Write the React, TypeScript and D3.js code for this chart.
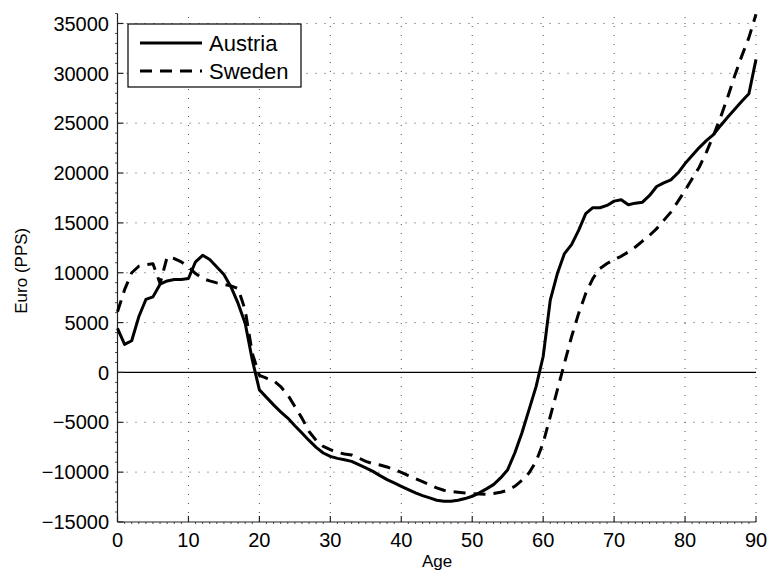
import React from "react";
import * as d3 from "d3";

const ages: number[] = Array.from({ length: 91 }, (_, i) => i);

const austria: number[] = [
  4420, 2820, 3180, 5580, 7320, 7580, 8850, 9180, 9320, 9320,
  9420, 11100, 11750, 11320, 10580, 9820, 8580, 6920, 4920, 1250,
  -1750, -2500, -3250, -3950, -4580, -5350, -6080, -6820, -7520, -8080,
  -8420, -8620, -8750, -8920, -9250, -9580, -9920, -10350, -10750, -11080,
  -11420, -11750, -12080, -12350, -12580, -12820, -12920, -12920, -12820, -12650,
  -12420, -12080, -11680, -11250, -10580, -9750, -8080, -6080, -3750, -1420,
  1600, 7250, 9920, 11920, 12820, 14250, 15920, 16520, 16520, 16750,
  17180, 17320, 16820, 16980, 17080, 17750, 18650, 19020, 19320, 20000,
  20950, 21750, 22550, 23250, 23850, 24750, 25600, 26400, 27200, 27950,
  31400,
];

const sweden: number[] = [
  6080, 8300, 10000, 10650, 10820, 10900, 8920, 11580, 11420, 11080,
  10580, 9920, 9420, 9180, 8980, 8820, 8680, 8420, 6250, 1920,
  -300, -580, -820, -1420, -2250, -3420, -4580, -5920, -6820, -7420,
  -7750, -8020, -8180, -8280, -8580, -8920, -9150, -9280, -9480, -9750,
  -10020, -10350, -10650, -10950, -11250, -11580, -11820, -11950, -12020, -12080,
  -12150, -12180, -12220, -12150, -12020, -11820, -11420, -10820, -10080, -8920,
  -7080, -4420, -1750, 920, 3580, 5920, 7920, 9420, 10420, 10920,
  11320, 11650, 12080, 12580, 13180, 13750, 14420, 15250, 16080, 17150,
  18250, 19420, 20580, 22080, 23750, 25580, 27580, 29750, 31750, 33580,
  35920,
];

const xTicks: number[] = [0, 10, 20, 30, 40, 50, 60, 70, 80, 90];
const yTicks: number[] = [-15000, -10000, -5000, 0, 5000, 10000, 15000, 20000, 25000, 30000, 35000];
const seriesNames: string[] = ["Austria", "Sweden"];

export default function App() {
  const W = 772;
  const H = 576;
  const x = d3.scaleLinear().domain([0, 90]).range([117.5, 756]);
  const y = d3.scaleLinear().domain([-15000, 36000]).range([522, 13.5]);
  const font = "'Liberation Sans', Arial, Helvetica, sans-serif";

  const line = d3
    .line<number>()
    .x((_, i) => x(ages[i]))
    .y((d) => y(d));

  const minorX = d3.range(0, 91, 1).filter((v) => v % 10 !== 0);
  const minorY = d3.range(-15000, 36001, 1000).filter((v) => v % 5000 !== 0);
  const x0 = x(0);
  const yb = y(-15000);
  const yt = y(36000);
  const xr = x(90);
  const fmt = (v: number) => (v < 0 ? "\u2212" + Math.abs(v) : String(v));

  return (
    <svg
      width={W}
      height={H}
      style={{ position: "absolute", left: 0, top: 0, background: "#fff" }}
    >
      <rect x={0} y={0} width={W} height={H} fill="#fff" />
      {/* grid */}
      <g stroke="#222" strokeWidth={1} strokeDasharray="1,8" fill="none" opacity={0.8}>
        {xTicks.filter((t) => t !== 0).map((t) => (
          <line key={"gx" + t} x1={x(t)} x2={x(t)} y1={yb} y2={yt} />
        ))}
        {yTicks.filter((t) => t !== -15000 && t !== 0).map((t) => (
          <line key={"gy" + t} x1={x0} x2={xr} y1={y(t)} y2={y(t)} />
        ))}
      </g>
      {/* zero line */}
      <line x1={x0} x2={xr} y1={y(0)} y2={y(0)} stroke="#000" strokeWidth={1.3} />
      {/* axes */}
      <g stroke="#222" strokeWidth={1.2} fill="none">
        <line x1={x0} x2={x0} y1={yb} y2={yt} />
        <line x1={x0} x2={xr} y1={yb} y2={yb} />
        {xTicks.map((t) => (
          <line key={"tx" + t} x1={x(t)} x2={x(t)} y1={yb} y2={yb - 6} />
        ))}
        {yTicks.map((t) => (
          <line key={"ty" + t} x1={x0} x2={x0 + 6} y1={y(t)} y2={y(t)} />
        ))}
        {minorX.map((t) => (
          <line key={"mx" + t} x1={x(t)} x2={x(t)} y1={yb} y2={yb + 2} strokeWidth={0.8} />
        ))}
        {minorY.map((t) => (
          <line key={"my" + t} x1={x0 - 2.5} x2={x0} y1={y(t)} y2={y(t)} strokeWidth={0.8} />
        ))}
      </g>
      {/* tick labels */}
      <g fontFamily={font} fontSize={20} fill="#000">
        {xTicks.map((t) => (
          <text key={"lx" + t} x={x(t)} y={547} textAnchor="middle">
            {t}
          </text>
        ))}
        {yTicks.map((t) => (
          <text key={"ly" + t} x={109} y={y(t)} dy="0.36em" textAnchor="end">
            {fmt(t)}
          </text>
        ))}
      </g>
      <text x={437} y={567} fontFamily={font} fontSize={17} textAnchor="middle">
        Age
      </text>
      <text
        transform={`translate(27,${(yb + yt) / 2 + 3}) rotate(-90)`}
        fontFamily={font}
        fontSize={17}
        textAnchor="middle"
      >
        Euro (PPS)
      </text>
      {/* series */}
      <path d={line(austria) || ""} fill="none" stroke="#000" strokeWidth={3} strokeLinejoin="round" />
      <path
        d={line(sweden) || ""}
        fill="none"
        stroke="#000"
        strokeWidth={3}
        strokeDasharray="12,8"
        strokeLinejoin="round"
      />
      {/* legend */}
      <g>
        <rect x={128} y={24} width={173} height={63} fill="#fff" stroke="#000" strokeWidth={1.2} />
        <line x1={140} x2={202} y1={43} y2={43} stroke="#000" strokeWidth={3} />
        <line x1={140} x2={202} y1={71} y2={71} stroke="#000" strokeWidth={3} strokeDasharray="12,8" />
        <text x={209} y={43} dy="0.36em" fontFamily={font} fontSize={22}>
          {seriesNames[0]}
        </text>
        <text x={209} y={71} dy="0.36em" fontFamily={font} fontSize={22}>
          {seriesNames[1]}
        </text>
      </g>
    </svg>
  );
}
